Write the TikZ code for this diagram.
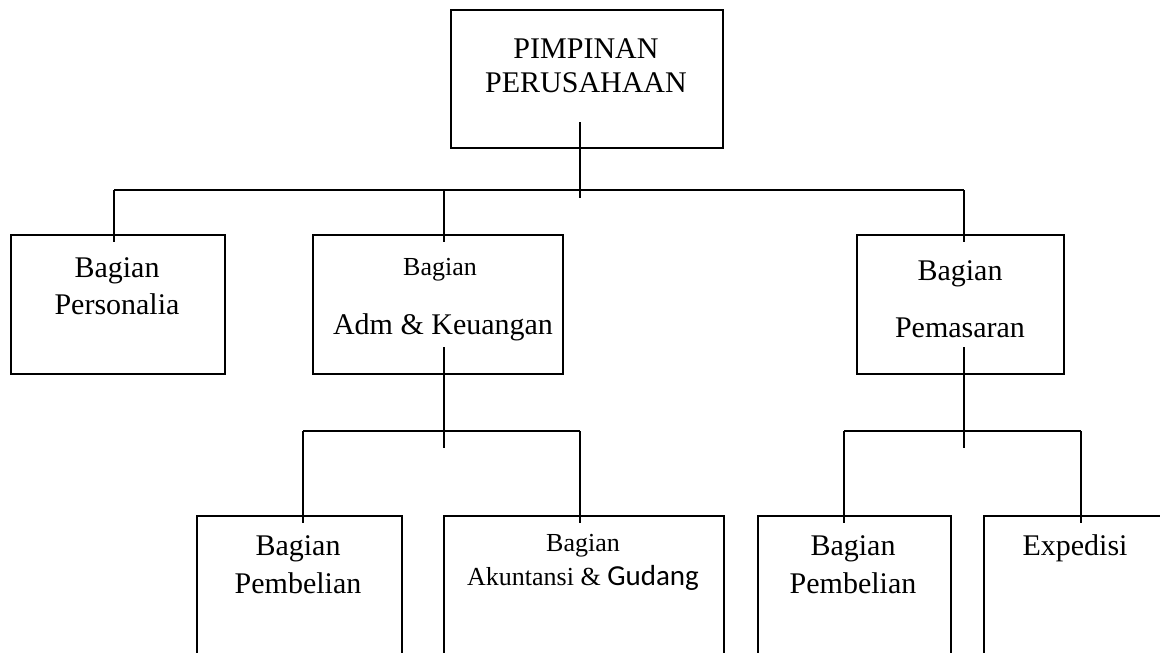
\documentclass[tikz,border=0pt]{standalone}
\usepackage{fontspec}
\setmainfont{Liberation Serif}
\newfontfamily\calibrifont{Carlito}
\begin{document}
\begin{tikzpicture}[x=1pt,y=-1pt,
  box/.style={draw=black,line width=1.6pt,rectangle,inner sep=0pt,anchor=north west},
  conn/.style={draw=black,line width=1.6pt},
  lbl/.style={anchor=base,inner sep=0pt},
  big/.style={font=\fontsize{30}{34}\selectfont},
  mid/.style={font=\fontsize{30}{34}\selectfont},
  small/.style={font=\fontsize{26}{30}\selectfont}]
\useasboundingbox (0,0) rectangle (1160,653);
\clip (0,0) rectangle (1160,653);
\fill[white] (0,0) rectangle (1160,653);
% boxes
\node[box,minimum width=272pt,minimum height=138pt] (top) at (450,9) {};
\node[box,minimum width=214pt,minimum height=139pt] (pers) at (10,234) {};
\node[box,minimum width=250pt,minimum height=139pt] (adm) at (312,234) {};
\node[box,minimum width=207pt,minimum height=139pt] (pem) at (856,234) {};
\node[box,minimum width=205pt,minimum height=138pt] (beli1) at (196,515) {};
\node[box,minimum width=280pt,minimum height=138pt] (akun) at (443,515) {};
\node[box,minimum width=193pt,minimum height=138pt] (beli2) at (757,515) {};
\node[box,minimum width=184pt,minimum height=138pt] (exp) at (983,515) {};
% labels
\node[lbl,big] (t1) at (586,58) {PIMPINAN};
\node[lbl,big] (t2) at (586,92) {PERUSAHAAN};
\node[lbl,big] (p1) at (117,277) {Bagian};
\node[lbl,big] (p2) at (117,314) {Personalia};
\node[lbl,small] (a1) at (440,275) {Bagian};
\node[lbl,mid] (a2) at (443,334) {Adm \& Keuangan};
\node[lbl,big] (m1) at (960,280) {Bagian};
\node[lbl,big] (m2) at (960,337) {Pemasaran};
\node[lbl,big] (b1) at (298,555) {Bagian};
\node[lbl,big] (b2) at (298,593) {Pembelian};
\node[lbl,small] (k1) at (583,551) {Bagian};
\node[lbl,small] (k2) at (583,585) {Akuntansi \& {\calibrifont\fontsize{29}{34}\selectfont Gudang}};
\node[lbl,big] (c1) at (853,555) {Bagian};
\node[lbl,big] (c2) at (853,593) {Pembelian};
\node[lbl,big] (e1) at (1075,555) {Expedisi};
% junction coordinates
\coordinate (tA) at (580,122);
\coordinate (tB) at (580,198);
\coordinate (hL) at (114,190);
\coordinate (hM) at (444,190);
\coordinate (hR) at (964,190);
\coordinate (dL) at (114,242);
\coordinate (dM) at (444,242);
\coordinate (dR) at (964,242);
\coordinate (aA) at (444,347);
\coordinate (aB) at (444,448);
\coordinate (aL) at (303,431);
\coordinate (aR) at (580,431);
\coordinate (aLd) at (303,523);
\coordinate (aRd) at (580,523);
\coordinate (mA) at (964,347);
\coordinate (mB) at (964,448);
\coordinate (mL) at (844,431);
\coordinate (mR) at (1081,431);
\coordinate (mLd) at (844,523);
\coordinate (mRd) at (1081,523);
% connectors
\draw[conn] (tA) -- (tB);
\draw[conn] (hL) -- (hR);
\draw[conn] (hL) -- (dL);
\draw[conn] (hM) -- (dM);
\draw[conn] (hR) -- (dR);
\draw[conn] (aA) -- (aB);
\draw[conn] (aL) -- (aR);
\draw[conn] (aL) -- (aLd);
\draw[conn] (aR) -- (aRd);
\draw[conn] (mA) -- (mB);
\draw[conn] (mL) -- (mR);
\draw[conn] (mL) -- (mLd);
\draw[conn] (mR) -- (mRd);
\end{tikzpicture}
\end{document}
